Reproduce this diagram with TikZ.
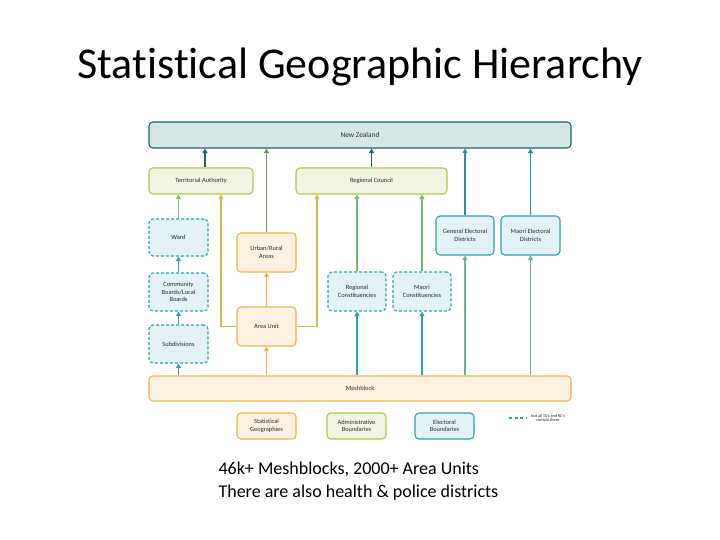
\documentclass[tikz,border=0pt]{standalone}
\usepackage{fontspec}
\setmainfont{Carlito}[Ligatures=NoCommon]
\usetikzlibrary{arrows.meta}
\definecolor{darkteal}{HTML}{1D6468}
\definecolor{tealc}{HTML}{2BA3AD}
\definecolor{olivec}{HTML}{B3C34E}
\definecolor{orangec}{HTML}{F2B24C}
\definecolor{mixot}{HTML}{6E9060}
\definecolor{mixtl}{HTML}{6FAE90}
\definecolor{nzfill}{HTML}{D7E7E7}
\definecolor{olivefill}{HTML}{F3F5E4}
\definecolor{orangefill}{HTML}{FDF2E2}
\definecolor{bluefill}{HTML}{E3F2F5}
\definecolor{txt}{HTML}{2A2A2A}
\tikzset{
  box/.style={rounded corners=4pt, align=center, inner sep=0pt, line width=1.1pt,
    font=\fontsize{6.4}{7.4}\selectfont, text=txt},
  nzbox/.style={box, draw=darkteal, fill=nzfill, font=\fontsize{7.4}{8}\selectfont},
  adminbox/.style={box, draw=olivec, fill=olivefill},
  statbox/.style={box, draw=orangec, fill=orangefill},
  elecbox/.style={box, draw=tealc, fill=bluefill},
  optbox/.style={box, draw=tealc, fill=bluefill, dash pattern=on 3pt off 2pt},
  conn/.style={line width=1.3pt, -{Triangle[length=4.5pt,width=5pt]}},
}
\begin{document}
\begin{tikzpicture}[x=1pt,y=-1pt]
\useasboundingbox (0,0) rectangle (720,540);
\node[font=\fontsize{44}{48}\selectfont, text=black] (title) at (360,67) {Statistical Geographic Hierarchy};
% x guides
\coordinate (c205) at (205,0);
\coordinate (c221) at (221,0);
\coordinate (c317) at (317,0);
% nodes
\node[nzbox, minimum width=422pt, minimum height=26pt] (nz) at (360,135) {New Zealand};
\node[adminbox, minimum width=104pt, minimum height=26pt] (ta) at (201,181) {Territorial Authority};
\node[adminbox, minimum width=151pt, minimum height=26pt] (rc) at (371.5,181) {Regional Council};
\node[optbox, minimum width=59pt, minimum height=37pt] (ward) at (178.5,237.5) {Ward};
\node[statbox, minimum width=59pt, minimum height=39pt] (ur) at (266.5,252.5) {Urban/Rural\\Areas};
\node[optbox, minimum width=59pt, minimum height=38pt] (cb) at (178.5,292) {Community\\Boards/Local\\Boards};
\node[statbox, minimum width=59pt, minimum height=39pt] (au) at (266.5,326.5) {Area Unit};
\node[optbox, minimum width=59pt, minimum height=38pt] (sub) at (178.5,344) {Subdivisions};
\node[statbox, minimum width=422pt, minimum height=25pt] (mb) at (360,388.5) {Meshblock};
\node[elecbox, minimum width=58pt, minimum height=39pt] (ged) at (465,235.5) {General Electoral\\Districts};
\node[elecbox, minimum width=59pt, minimum height=39pt] (med) at (530.5,235.5) {Maori Electoral\\Districts};
\node[optbox, minimum width=58pt, minimum height=39pt] (regc) at (357,291.5) {Regional\\Constituencies};
\node[optbox, minimum width=58pt, minimum height=39pt] (mc) at (422,291.5) {Maori\\Constituencies};
% legend
\node[statbox, minimum width=59pt, minimum height=26pt] (lsg) at (266.5,426) {Statistical\\Geographies};
\node[adminbox, minimum width=59pt, minimum height=26pt] (lab) at (356.5,426) {Administrative\\Boundaries};
\node[elecbox, minimum width=59pt, minimum height=26pt] (leb) at (444.5,426) {Electoral\\Boundaries};
\coordinate (ld1) at (509,418);
\coordinate (ld2) at (526,418);
\draw[tealc, line width=1.4pt, dash pattern=on 3pt off 2.5pt] (ld1) -- (ld2);
\node[font=\fontsize{4.2}{4.8}\selectfont, text=txt, align=center] (lnote) at (548,418) {Not all TA's and RC's\\contain these};
% connectors to New Zealand
\draw[conn, darkteal] (ta.north -| c205) -- (nz.south -| c205);
\draw[conn, mixot] (ur.north) -- (nz.south -| ur.north);
\draw[conn, darkteal] (rc.north) -- (nz.south -| rc.north);
\draw[conn, tealc!70!darkteal] (ged.north) -- (nz.south -| ged.north);
\draw[conn, tealc!70!darkteal] (med.north) -- (nz.south -| med.north);
% connectors to TA / RC
\draw[conn, olivec!70!tealc] (ward.north) -- (ta.south -| ward.north);
\draw[conn, orangec!45!olivec] (au.west) -| (ta.south -| c221);
\draw[conn, orangec!45!olivec] (au.east) -| (rc.south -| c317);
\draw[conn, olivec!55!tealc] (regc.north) -- (rc.south -| regc.north);
\draw[conn, olivec!55!tealc] (mc.north) -- (rc.south -| mc.north);
% optional chain
\draw[conn, tealc] (cb.north) -- (ward.south);
\draw[conn, tealc] (sub.north) -- (cb.south);
\draw[conn, tealc] (mb.north -| sub.south) -- (sub.south);
% statistical chain
\draw[conn, orangec] (au.north) -- (ur.south);
\draw[conn, orangec] (mb.north -| au.south) -- (au.south);
% electoral
\draw[conn, tealc] (mb.north -| regc.south) -- (regc.south);
\draw[conn, tealc] (mb.north -| mc.south) -- (mc.south);
\draw[conn, mixtl] (mb.north -| ged.south) -- (ged.south);
\draw[conn, mixtl] (mb.north -| med.south) -- (med.south);
% bottom text
\node[anchor=west, align=left, font=\fontsize{18}{22.5}\selectfont, text=black] (note) at (215,481) {46k+ Meshblocks, 2000+ Area Units\\There are also health \& police districts};
\end{tikzpicture}
\end{document}
